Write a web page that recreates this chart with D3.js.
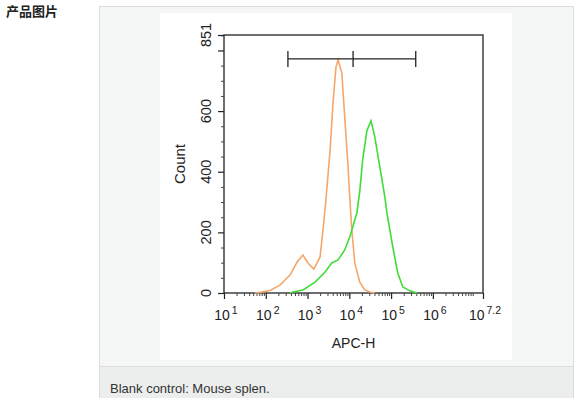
<!DOCTYPE html>
<html>
<head>
<meta charset="utf-8">
<script src="https://cdn.jsdelivr.net/npm/d3@7"></script>
<style>
  body { margin: 0; background: #fff; }
  svg { display: block; font-family: "Liberation Sans", Arial, Helvetica, sans-serif; }
</style>
</head>
<body>
<div id="chart"></div>
<script>
// Blank control (orange) : log10(APC-H), count
const blankLog = [1.74, 1.86, 2.10, 2.34, 2.58, 2.75, 2.89, 3.01, 3.15, 3.30, 3.37, 3.44, 3.54, 3.61, 3.68, 3.73, 3.82, 3.89, 3.97, 4.01, 4.06, 4.13, 4.25, 4.37, 4.49, 4.61];
const blankCount = [0, 2, 8, 26, 59, 102, 125, 99, 79, 119, 208, 307, 472, 627, 745, 769, 726, 580, 416, 317, 208, 99, 36, 10, 3, 0];
// Stained sample (green)
const stainLog = [2.58, 2.65, 2.89, 3.18, 3.42, 3.58, 3.73, 3.89, 4.01, 4.18, 4.25, 4.32, 4.42, 4.52, 4.61, 4.73, 4.85, 4.90, 5.04, 5.16, 5.28, 5.45, 5.62];
const stainCount = [0, 3, 10, 36, 69, 99, 109, 142, 185, 264, 335, 440, 535, 568, 515, 416, 317, 264, 152, 66, 20, 7, 0];

const yMajor = [0, 200, 400, 600, 800];
const yLabels = [0, 200, 400, 600, 851];
const xExponents = [1, 2, 3, 4, 5, 6, 7.2];
const gateLog = [2.53, 4.09, 5.59];
const gateCount = 772;

const W = 577, H = 398;
const svg = d3.select("#chart").append("svg").attr("width", W).attr("height", H);

// page frame
svg.append("text").attr("x", 6).attr("y", 16)
  .style("font-family", "'Noto Sans CJK SC', sans-serif")
  .style("font-size", "13px").style("font-weight", "bold").attr("fill", "#222")
  .text("产品图片");
svg.append("rect").attr("x", 99.5).attr("y", 6.5).attr("width", 474).attr("height", 400)
  .attr("fill", "#f5f6f6").attr("stroke", "#dddddd");
svg.append("rect").attr("x", 100).attr("y", 366).attr("width", 473).attr("height", 40).attr("fill", "#eceeee");
svg.append("line").attr("x1", 100).attr("x2", 573).attr("y1", 366.5).attr("y2", 366.5).attr("stroke", "#dddddd");
svg.append("text").attr("x", 110).attr("y", 393).style("font-size", "13px").attr("fill", "#333")
  .text("Blank control: Mouse splen.");
svg.append("rect").attr("x", 160).attr("y", 13).attr("width", 352).attr("height", 347).attr("fill", "#fff");

// plot area
const mLeft = 224, mRight = 483, mTop = 35, mBottom = 293;
const x = d3.scaleLog().domain([10, Math.pow(10, 7.2)]).range([mLeft, mRight]);
const y = d3.scaleLinear().domain([0, 851]).range([mBottom, mTop]);

const g = svg.append("g");

// frame
g.append("rect").attr("x", mLeft).attr("y", mTop).attr("width", mRight - mLeft).attr("height", mBottom - mTop)
  .attr("fill", "none").attr("stroke", "#222").attr("stroke-width", 1.3);

// y axis ticks
const yMinor = d3.range(0, 851, 50).filter(v => !yMajor.includes(v));
g.append("g").attr("transform", `translate(${mLeft},0)`)
  .call(d3.axisLeft(y).tickValues(yMinor).tickSize(3).tickFormat(""))
  .call(a => a.select(".domain").remove())
  .selectAll("line").attr("stroke", "#444");
g.append("g").attr("transform", `translate(${mLeft},0)`)
  .call(d3.axisLeft(y).tickValues(yMajor.concat([851])).tickSize(6).tickFormat(""))
  .call(a => a.select(".domain").remove())
  .selectAll("line").attr("stroke", "#222").attr("stroke-width", 1.2);
g.selectAll(".ylab").data(yLabels).join("text")
  .attr("transform", d => `translate(${mLeft - 13},${y(d)}) rotate(-90)`)
  .attr("text-anchor", "middle").style("font-size", "14.5px").attr("fill", "#222")
  .text(d => d);

// x axis ticks
const xMinor = [];
for (let e = 1; e < 8; e++) for (let m = 2; m <= 9; m++) {
  const v = m * Math.pow(10, e);
  if (v < Math.pow(10, 7.2)) xMinor.push(v);
}
g.append("g").attr("transform", `translate(0,${mBottom})`)
  .call(d3.axisBottom(x).tickValues(xMinor).tickSize(3).tickFormat(""))
  .call(a => a.select(".domain").remove())
  .selectAll("line").attr("stroke", "#444");
g.append("g").attr("transform", `translate(0,${mBottom})`)
  .call(d3.axisBottom(x).tickValues(xExponents.map(e => Math.pow(10, e))).tickSize(6).tickFormat(""))
  .call(a => a.select(".domain").remove())
  .selectAll("line").attr("stroke", "#222").attr("stroke-width", 1.2);
const xl = g.selectAll(".xlab").data(xExponents).join("text")
  .attr("x", d => x(Math.pow(10, d)) + 2).attr("y", mBottom + 27)
  .attr("text-anchor", "middle").style("font-size", "14px").attr("fill", "#222");
xl.append("tspan").text("10");
xl.append("tspan").attr("dx", 2).attr("dy", -6).style("font-size", "10.5px").text(d => d);

// axis titles
svg.append("text").attr("transform", `translate(185,${(mTop + mBottom) / 2}) rotate(-90)`)
  .attr("text-anchor", "middle").style("font-size", "15px").attr("fill", "#222").text("Count");
svg.append("text").attr("x", (mLeft + mRight) / 2).attr("y", 348)
  .attr("text-anchor", "middle").style("font-size", "14px").attr("fill", "#222").text("APC-H");

// curves
const line = d3.line().x(d => x(Math.pow(10, d[0]))).y(d => y(d[1]));
g.append("path").datum(blankLog.map((v, i) => [v, blankCount[i]]))
  .attr("d", line).attr("fill", "none").attr("stroke", "#f5a66b").attr("stroke-width", 1.6);
g.append("path").datum(stainLog.map((v, i) => [v, stainCount[i]]))
  .attr("d", line).attr("fill", "none").attr("stroke", "#40dc38").attr("stroke-width", 1.6);

// gate marker
const gx = gateLog.map(v => x(Math.pow(10, v)));
g.append("line").attr("x1", gx[0]).attr("x2", gx[2]).attr("y1", y(gateCount)).attr("y2", y(gateCount))
  .attr("stroke", "#222").attr("stroke-width", 1.3);
g.selectAll(".gate").data(gx).join("line")
  .attr("x1", d => d).attr("x2", d => d).attr("y1", y(gateCount) - 8).attr("y2", y(gateCount) + 8)
  .attr("stroke", "#222").attr("stroke-width", 1.3);
</script>
</body>
</html>
